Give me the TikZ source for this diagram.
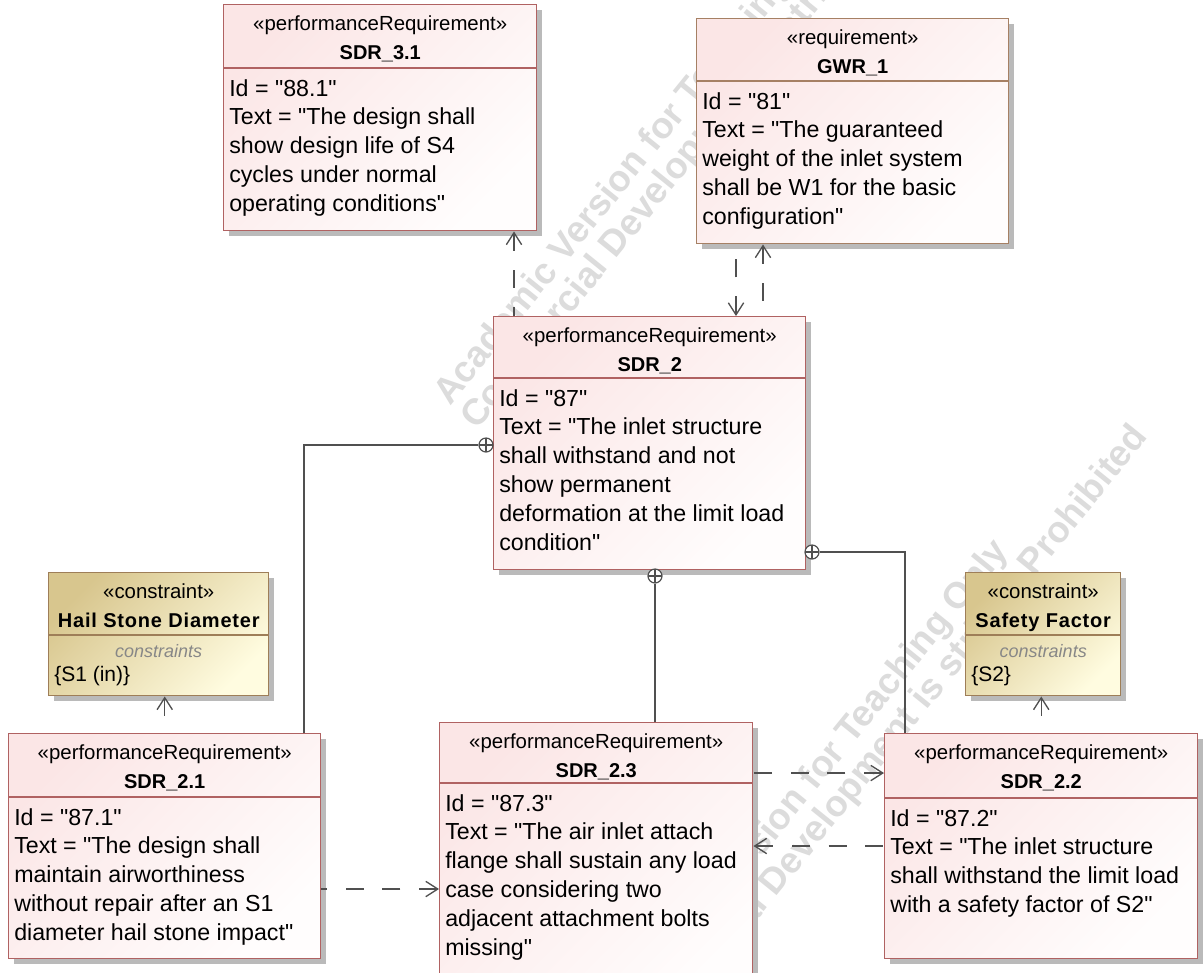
\documentclass[tikz,border=0pt]{standalone}
\usepackage{fontspec}
\setmainfont{Liberation Sans}[Ligatures=TeXOff]
\usetikzlibrary{arrows.meta,shadows,calc}

\definecolor{reqborder}{RGB}{176,98,98}
\definecolor{gwrborder}{RGB}{166,128,100}
\definecolor{reqtop}{RGB}{251,230,230}
\definecolor{reqbot}{RGB}{255,253,253}
\definecolor{conborder}{RGB}{158,126,88}
\definecolor{contop}{RGB}{216,198,142}
\definecolor{conbot}{RGB}{255,252,224}
\definecolor{shadowgrey}{RGB}{186,186,186}
\definecolor{wire}{RGB}{80,80,80}
\definecolor{wmgrey}{RGB}{220,220,220}
\definecolor{hintgrey}{RGB}{135,135,135}

\tikzset{
  umlbase/.style={inner sep=0pt, anchor=north west, line width=1.1pt,
    drop shadow={shadow xshift=3.75pt, shadow yshift=-3.75pt, fill=shadowgrey, opacity=1}},
  reqbox/.style={umlbase, draw=reqborder, top color=reqtop, bottom color=reqbot, shading angle=45},
  gwrbox/.style={umlbase, draw=gwrborder, top color=reqtop, bottom color=reqbot, shading angle=45},
  conbox/.style={umlbase, draw=conborder, top color=contop, bottom color=conbot, shading angle=45},
  reqbox line/.style={draw=reqborder, line width=1.1pt},
  gwrbox line/.style={draw=gwrborder, line width=1.1pt},
  conbox line/.style={draw=conborder, line width=1.1pt},
  stereo/.style={anchor=base, inner sep=0pt, font=\fontsize{15.3}{18}\selectfont},
  title/.style={anchor=base, inner sep=0pt, font=\fontsize{15}{18}\selectfont\bfseries},
  contitle/.style={title, font=\fontsize{15}{18}\selectfont\bfseries\addfontfeature{LetterSpace=4}},
  bodytext/.style={anchor=base west, inner sep=0pt, font=\fontsize{17.4}{21}\selectfont},
  hint/.style={anchor=base, inner sep=0pt, text=hintgrey, font=\fontsize{13.5}{16}\selectfont\itshape},
  conbody/.style={anchor=base west, inner sep=0pt, font=\fontsize{15.75}{19}\selectfont},
  watermark/.style={anchor=base west, inner sep=0pt, rotate=51, text=wmgrey,
    font=\fontsize{27.5}{30}\selectfont\bfseries},
  contain/.style={circle, draw=wire, fill=white, line width=0.9pt, minimum size=10.5pt, inner sep=0pt,
    path picture={\draw[wire, line width=0.9pt]
      (path picture bounding box.north) -- (path picture bounding box.south)
      (path picture bounding box.west) -- (path picture bounding box.east);}},
  own/.style={draw=wire, line width=1pt},
  dep/.style={draw=wire, line width=1pt, dash pattern=on 13.5pt off 14pt,
    arrows={Straight Barb[length=9pt, width=11.5pt, line width=1pt]-}},
}

% box with its header divider: name, style, x, y, width, height, divider offset
\newcommand\umlbox[7]{%
  \node[#2, minimum width=#5*0.75pt, minimum height=#6*0.75pt] (#1) at (#3,#4) {};
  \draw[#2 line] ($(#1.north west)+(0,#7)$) -- ($(#1.north east)+(0,#7)$);
}
% stereotype and name: box, stereotype, name, name style
\newcommand\umlhead[4][title]{%
  \node[stereo] at ($(#2.north)+(0,26)$) {#3};
  \node[#1] at ($(#2.north)+(0,55)$) {#4};
}
% attribute lines: box, divider offset, lines
\newcommand\umlbody[3]{%
  \foreach \bline [count=\i] in {#3}
    \node[bodytext] at ($(#1.north west)+(6,{#2+28+(\i-1)*28.8})$) {\bline};
}
% constraint compartment: box, divider offset, constraint text
\newcommand\umlconstraint[3]{%
  \node[hint] at ($(#1.north)+(0,{#2+22})$) {constraints};
  \node[conbody] at ($(#1.north west)+(6,{#2+46})$) {#3};
}

\begin{document}
\begin{tikzpicture}[x=0.75pt, y=-0.75pt]
  \clip (0,0) rectangle (1203,972);
  \fill[white] (0,0) rectangle (1203,972);

  % licence watermark behind the diagram
  \node[watermark] (wm1a) at (450,407) {Academic Version for Teaching Only};
  \node[watermark] (wm1b) at (477,431) {Commercial Development is strictly Prohibited};
  \node[watermark] (wm2a) at (610,1045) {Academic Version for Teaching Only};
  \node[watermark] (wm2b) at (637,1069) {Commercial Development is strictly Prohibited};

  % requirements
  \umlbox{sdr31}{reqbox}{223}{4}{313}{226}{64}
  \umlhead{sdr31}{«performanceRequirement»}{SDR\_3.1}
  \umlbody{sdr31}{64}{{Id = "88.1"},{Text = "The design shall},{show design life of S4},
    {cycles under normal},{operating conditions"}}

  \umlbox{gwr1}{gwrbox}{696}{18}{312}{225}{63}
  \umlhead{gwr1}{«requirement»}{GWR\_1}
  \umlbody{gwr1}{63}{{Id = "81"},{Text = "The guaranteed},{weight of the inlet system},
    {shall be W1 for the basic},{configuration"}}

  \umlbox{sdr2}{reqbox}{493}{316}{312}{253}{62}
  \umlhead{sdr2}{«performanceRequirement»}{SDR\_2}
  \umlbody{sdr2}{62}{{Id = "87"},{Text = "The inlet structure},{shall withstand and not},
    {show permanent},{deformation at the limit load},{condition"}}

  \umlbox{sdr21}{reqbox}{8}{733}{312}{225}{64}
  \umlhead{sdr21}{«performanceRequirement»}{SDR\_2.1}
  \umlbody{sdr21}{64}{{Id = "87.1"},{Text = "The design shall},{maintain airworthiness},
    {without repair after an S1},{diameter hail stone impact"}}

  \umlbox{sdr23}{reqbox}{439}{722}{313}{290}{61}
  \umlhead{sdr23}{«performanceRequirement»}{SDR\_2.3}
  \umlbody{sdr23}{61}{{Id = "87.3"},{Text = "The air inlet attach},{flange shall sustain any load},
    {case considering two},{adjacent attachment bolts},{missing"}}

  \umlbox{sdr22}{reqbox}{884}{733}{313}{225}{65}
  \umlhead{sdr22}{«performanceRequirement»}{SDR\_2.2}
  \umlbody{sdr22}{65}{{Id = "87.2"},{Text = "The inlet structure},{shall withstand the limit load},
    {with a safety factor of S2"}}

  % constraint blocks
  \umlbox{hail}{conbox}{48}{572}{220}{123}{63}
  \umlhead[contitle]{hail}{«constraint»}{Hail Stone Diameter}
  \umlconstraint{hail}{63}{\{S1 (in)\}}

  \umlbox{safety}{conbox}{965}{572}{155}{123}{63}
  \umlhead[contitle]{safety}{«constraint»}{Safety Factor}
  \umlconstraint{safety}{63}{\{S2\}}

  % guide lines for the connectors
  \coordinate (gA) at (304,0);
  \coordinate (gB) at (905,0);
  \coordinate (gC) at (514,0);
  \coordinate (gD) at (736,0);
  \coordinate (gE) at (763,0);
  \coordinate (gF) at (0,889);
  \coordinate (gG) at (0,773);
  \coordinate (gH) at (0,846);

  % containment
  \node[contain] (p1) at (486,445) {};
  \node[contain] (p2) at (812,552) {};
  \node[contain] (p3) at (655,576) {};
  \draw[own] (p1.west) -| (gA |- sdr21.north);
  \draw[own] (p2.east) -| (gB |- sdr22.north);
  \draw[own] (p3.south) -- (p3 |- sdr23.north);

  % dependencies (drawn from the arrow end)
  \draw[dep] (sdr31.south -| gC) -- (sdr2.north -| gC);
  \draw[dep] (sdr2.north -| gD) -- (gwr1.south -| gD);
  \draw[dep] (gwr1.south -| gE) -- (sdr2.north -| gE);
  \draw[dep] (sdr23.west |- gF) -- (sdr21.east |- gF);
  \draw[dep] (sdr22.west |- gG) -- (sdr23.east |- gG);
  \draw[dep] (sdr23.east |- gH) -- (sdr22.west |- gH);
  \draw[dep] (hail.south -| sdr21.north) -- (sdr21.north);
  \draw[dep] (safety.south -| sdr22.north) -- (sdr22.north);
\end{tikzpicture}
\end{document}
